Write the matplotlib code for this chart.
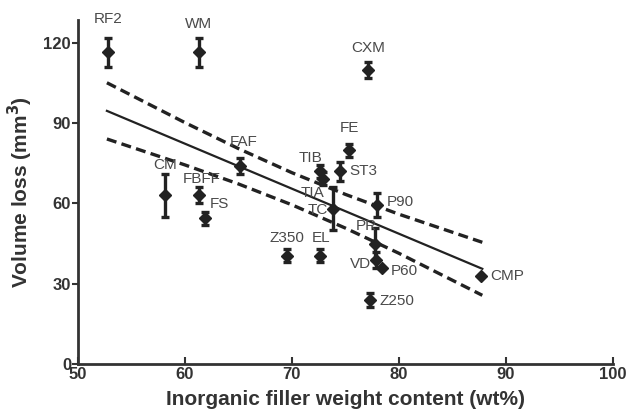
import numpy as np
import matplotlib.pyplot as plt

plt.rcParams['font.family'] = ['Liberation Sans', 'DejaVu Sans']

# composites: name, filler wt%, volume loss (mm3), error
names = ['RF2', 'WM', 'CXM', 'FAF', 'FE', 'TIB', 'ST3', 'TIA', 'TC', 'P90',
         'PR', 'VD', 'P60', 'Z250', 'EL', 'Z350', 'CMP', 'CM', 'FBFF', 'FS']
filler = [52.8, 61.3, 77.1, 65.1, 75.3, 72.6, 74.5, 72.9, 73.8, 78.0,
          77.8, 77.9, 78.4, 77.3, 72.6, 69.5, 87.7, 58.1, 61.3, 61.9]
vol_loss = [116.5, 116.5, 110.0, 74.0, 79.8, 72.0, 72.0, 69.3, 58.0, 59.5,
            45.0, 39.0, 36.0, 24.0, 40.5, 40.5, 32.8, 63.0, 63.0, 54.5]
vol_err = [5.5, 5.5, 3.0, 3.0, 2.5, 2.5, 3.5, 2.5, 8.0, 4.5,
           6.0, 3.0, 0.0, 2.5, 2.5, 2.5, 0.0, 8.0, 3.0, 2.5]

# label offsets in pixels (dx, dy) and alignment
lab_dx = [0, 0, 0, 4, 1, -9, 9, -10, -15, 9,
          -9, -5, 9, 9, 1, 0, 9, 0, 3, 4]
lab_dy = [33, 28, 22, 24, 22, 13, 0, -14, -1, 3,
          18, -4, -3, -1, 18, 18, 0, 30, 16, 14]
lab_ha = ['center', 'center', 'center', 'center', 'center', 'center', 'left', 'center', 'center', 'left',
          'center', 'right', 'left', 'left', 'center', 'center', 'left', 'center', 'center', 'left']

# regression line and 95% confidence band
fit_x = [52.7, 87.8]
fit_y = [94.6, 35.6]
band_x = [52.7, 60, 65, 70, 75, 80, 87.8]
band_hi = [105.1, 90.2, 80.5, 71.5, 63.4, 56.0, 45.5]
band_lo = [84.1, 74.4, 67.3, 59.5, 50.8, 41.4, 25.7]

fig = plt.figure(figsize=(6.37, 4.19), dpi=100)
ax = fig.add_axes([0.1225, 0.131, 0.8395, 0.821])

dark = '#222222'
ax.plot(fit_x, fit_y, color=dark, lw=1.6)
ax.plot(band_x, band_hi, color=dark, lw=2.4, ls=(0, (3, 1.6)))
ax.plot(band_x, band_lo, color=dark, lw=2.4, ls=(0, (3, 1.6)))

ax.errorbar(filler, vol_loss, yerr=vol_err, fmt='D', color=dark, ms=6.5,
            elinewidth=2.4, capsize=3, capthick=2.4, zorder=3)

for n, x, y, dx, dy, ha in zip(names, filler, vol_loss, lab_dx, lab_dy, lab_ha):
    ax.annotate(n, (x, y), xytext=(dx * 0.72, dy * 0.72), textcoords='offset points',
                ha=ha, va='center', fontsize=11, color='#4a4a4a')

ax.set_xlim(50, 100)
ax.set_ylim(0, 128.5)
ax.set_xticks([50, 60, 70, 80, 90, 100])
ax.set_yticks([0, 30, 60, 90, 120])

for s in ['top', 'right']:
    ax.spines[s].set_visible(False)
for s in ['left', 'bottom']:
    ax.spines[s].set_linewidth(2)
    ax.spines[s].set_color('#333333')

ax.tick_params(axis='x', direction='in', length=5, width=1.5, color='#333333',
               labelsize=12, pad=2)
ax.tick_params(axis='y', direction='out', length=4, width=1.5, color='#333333',
               labelsize=12, pad=1)
for lbl in ax.get_xticklabels() + ax.get_yticklabels():
    lbl.set_fontweight('bold')
    lbl.set_color('#333333')

ax.set_xlabel('Inorganic filler weight content (wt%)', fontsize=15,
              fontweight='bold', color='#333333', labelpad=6)
ax.set_ylabel('Volume loss (mm$^\\mathbf{3}$)', fontsize=15,
              fontweight='bold', color='#333333', labelpad=6)

fig.savefig('out.png', dpi=100)
